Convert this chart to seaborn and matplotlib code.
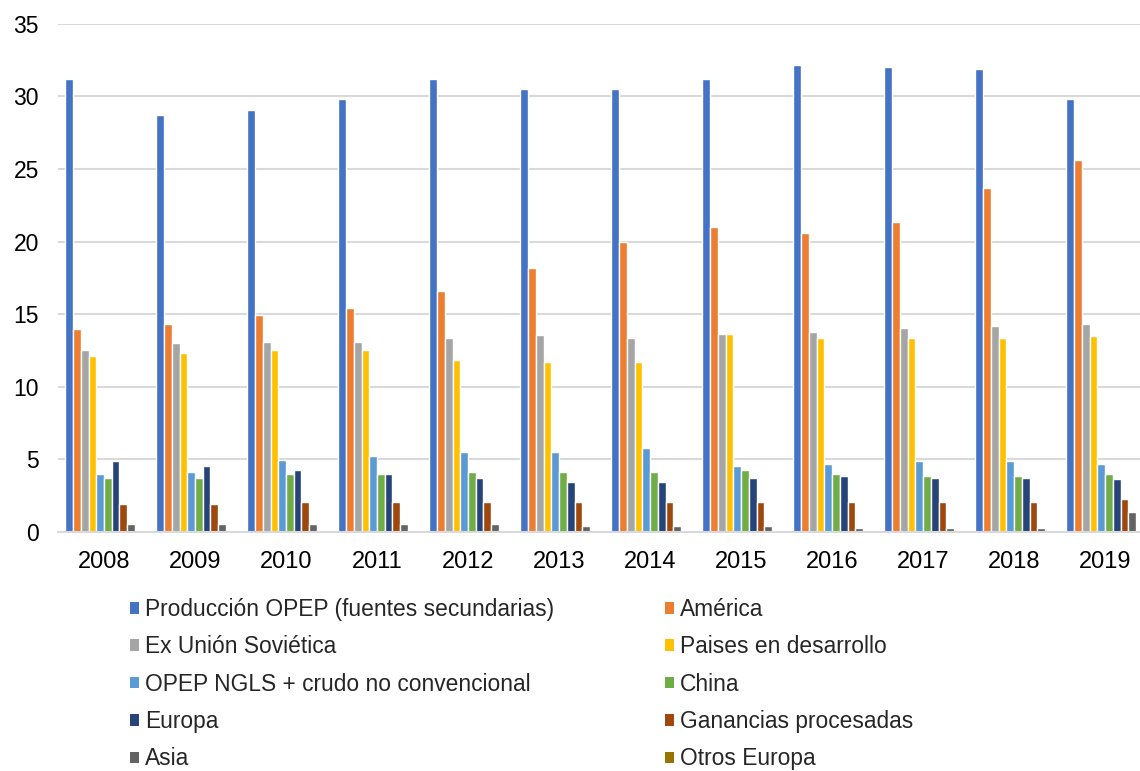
import matplotlib
matplotlib.use("Agg")
import matplotlib.pyplot as plt
from matplotlib.patches import Patch
import seaborn as sns
import pandas as pd

# Oil supply by source, millions of barrels per day
years = ["2008", "2009", "2010", "2011", "2012", "2013",
         "2014", "2015", "2016", "2017", "2018", "2019"]

produccion_opep = [31.2, 28.7, 29.1, 29.8, 31.2, 30.5, 30.5, 31.2, 32.2, 32.0, 31.9, 29.8]
america = [13.95, 14.36, 14.93, 15.46, 16.6, 18.2, 20.0, 21.0, 20.6, 21.38, 23.72, 25.65]
ex_union_sovietica = [12.57, 12.99, 13.1, 13.1, 13.37, 13.54, 13.37, 13.67, 13.81, 14.06, 14.2, 14.36]
paises_desarrollo = [12.13, 12.3, 12.55, 12.55, 11.86, 11.72, 11.72, 13.67, 13.37, 13.37, 13.37, 13.51]
opep_ngls = [4.0, 4.15, 4.96, 5.23, 5.53, 5.53, 5.81, 4.57, 4.71, 4.89, 4.89, 4.71]
china = [3.74, 3.74, 4.0, 4.0, 4.15, 4.15, 4.15, 4.29, 4.0, 3.88, 3.88, 4.0]
europa = [4.87, 4.57, 4.29, 4.0, 3.74, 3.47, 3.47, 3.74, 3.88, 3.74, 3.74, 3.63]
ganancias = [1.93, 1.93, 2.09, 2.09, 2.09, 2.09, 2.09, 2.09, 2.09, 2.09, 2.09, 2.25]
asia = [0.55, 0.55, 0.55, 0.55, 0.55, 0.44, 0.44, 0.44, 0.3, 0.3, 0.3, 1.40]
otros_europa = [0, 0, 0, 0, 0, 0, 0, 0, 0, 0, 0, 0]

series_names = [
    "Producción OPEP (fuentes secundarias)", "América",
    "Ex Unión Soviética", "Paises en desarrollo",
    "OPEP NGLS + crudo no convencional", "China",
    "Europa", "Ganancias procesadas",
    "Asia", "Otros Europa",
]
series_values = [produccion_opep, america, ex_union_sovietica, paises_desarrollo,
                 opep_ngls, china, europa, ganancias, asia, otros_europa]
colors = ["#4472C4", "#ED7D31", "#A5A5A5", "#FFC000", "#5B9BD5",
          "#70AD47", "#264478", "#9E480E", "#636363", "#997300"]

rows = []
for name, vals in zip(series_names, series_values):
    for y, v in zip(years, vals):
        rows.append({"year": y, "serie": name, "value": v})
df = pd.DataFrame(rows)

sns.set_theme(style="white")
plt.rcParams["font.family"] = ["Liberation Sans", "DejaVu Sans"]

fig = plt.figure(figsize=(11.4, 7.71), dpi=100)
ax = fig.add_axes([0.0513, 0.31, 0.958, 0.659])

sns.barplot(data=df, x="year", y="value", hue="serie", hue_order=series_names,
            palette=colors, saturation=1, width=0.85, edgecolor="white",
            linewidth=1.0, errorbar=None, legend=False, ax=ax)

ax.set_xlim(-0.5, len(years) - 0.5)
ax.set_ylim(0, 35)
ax.set_yticks([0, 5, 10, 15, 20, 25, 30, 35])
ax.set_xlabel("")
ax.set_ylabel("")
ax.grid(axis="y", color="#D9D9D9", linewidth=1.5)
ax.set_axisbelow(True)
for side in ["left", "right", "top"]:
    ax.spines[side].set_visible(False)
ax.spines["bottom"].set_color("#D9D9D9")
ax.spines["bottom"].set_linewidth(1.5)
ax.tick_params(axis="both", length=0)
ax.tick_params(axis="y", labelsize=16.5, pad=14, colors="black")
ax.tick_params(axis="x", labelsize=17, pad=14, colors="black")

handles = [Patch(facecolor=c, edgecolor="none") for c in colors]
legend_kw = dict(frameon=False, fontsize=16.4, handlelength=0.4, handleheight=0.4,
                 handletextpad=0.25, labelspacing=0.63, borderpad=0,
                 borderaxespad=0, loc="upper left")
left_idx = [0, 2, 4, 6, 8]
right_idx = [1, 3, 5, 7, 9]
fig.legend([handles[i] for i in left_idx], [series_names[i] for i in left_idx],
           bbox_to_anchor=(130 / 1140, 1 - 598 / 771), **legend_kw)
fig.legend([handles[i] for i in right_idx], [series_names[i] for i in right_idx],
           bbox_to_anchor=(665 / 1140, 1 - 598 / 771), **legend_kw)

fig.savefig("out.png", dpi=100, facecolor="white")
